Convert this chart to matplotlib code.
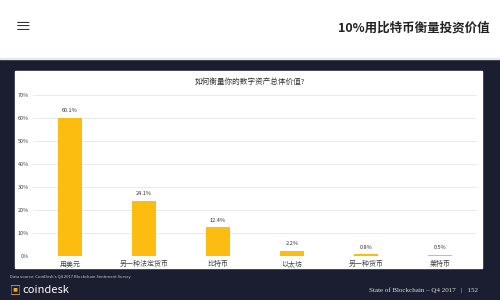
import matplotlib
matplotlib.use('Agg')
import matplotlib.pyplot as plt
from matplotlib.patches import Rectangle

plt.rcParams['font.family'] = ['Noto Sans CJK SC', 'DejaVu Sans']

categories = ['用美元', '另一种法定货币', '比特币', '以太坊', '另一种货币', '莱特币']
values = [60.1, 24.1, 12.4, 2.2, 0.8, 0.5]
yticks = [0, 10, 20, 30, 40, 50, 60, 70]

fig = plt.figure(figsize=(5, 3), dpi=100)
fig.patch.set_facecolor('white')

# dark slide background + white panel
fig.add_artist(Rectangle((0, 0), 1, 240/300, transform=fig.transFigure, color='#1b1e31', zorder=0))
fig.add_artist(Rectangle((15/500, 32/300), 467/500, 197/300, transform=fig.transFigure, color='white', zorder=1))
fig.add_artist(Rectangle((0, 241/300), 1, 1/300, transform=fig.transFigure, color='#e8e8e8', zorder=1))

# top bar
fig.text(15/500, 1 - 28/300, '≡', fontsize=12, color='#333333', va='center', ha='left')
fig.text(490/500, 1 - 28/300, '10%用比特币衡量投资价值', fontsize=9, fontweight='bold',
         color='#222222', va='center', ha='right')

ax = fig.add_axes([33/500, 1 - 256/300, 444/500, 161/300])
ax.set_zorder(2)
ax.patch.set_alpha(0)
x = range(len(categories))
bars = ax.bar(x, values, width=0.32, color='#fdbd10', zorder=3)
for xi, v in zip(x, values):
    ax.text(xi, v + 2, f'{v}%', ha='center', va='bottom', fontsize=4, color='#333333')

ax.set_ylim(0, 70)
ax.set_xlim(-0.5, len(categories) - 0.5)
ax.set_yticks(yticks)
ax.set_yticklabels([f'{t}%' for t in yticks], fontsize=4, color='#444444')
ax.set_xticks(list(x))
ax.set_xticklabels(categories, fontsize=5, color='#444444')
ax.tick_params(length=0, pad=3)
ax.grid(axis='y', color='#e6e6e6', linewidth=0.6, zorder=0)
for s in ax.spines.values():
    s.set_visible(False)

fig.text(250/500, 1 - 82/300, '如何衡量你的数字资产总体价值?', fontsize=5.5, color='#333333',
         ha='center', va='center', zorder=3)

# footer
fig.text(10/500, 1 - 277/300, "Data source: CoinDesk's Q4 2017 Blockchain Sentiment Survey",
         fontsize=3, color='#cccccc', ha='left', va='center')
fig.text(10/500, 1 - 290/300, '▣', fontsize=8, color='#f2b01e', ha='left', va='center')
fig.text(22/500, 1 - 290/300, 'coindesk', fontsize=8, color='white', ha='left', va='center')
fig.text(478/500, 1 - 290/300, 'State of Blockchain – Q4 2017   |   152', fontsize=5,
         color='#dddddd', ha='right', va='center', family='Liberation Serif')

fig.savefig('out.png', dpi=100)
